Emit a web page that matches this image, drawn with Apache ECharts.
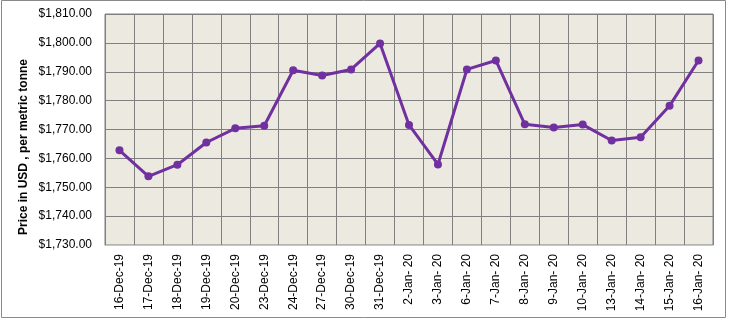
<!DOCTYPE html>
<html>
<head>
<meta charset="utf-8">
<script src="https://cdn.jsdelivr.net/npm/echarts@6/dist/echarts.min.js"></script>
<style>
  html, body { margin: 0; padding: 0; background: #fff; }
  #chart { width: 729px; height: 319px; }
</style>
</head>
<body>
<div id="chart"></div>
<script>
'use strict';

// 日期(横轴)
var dates = [
    '16-Dec-19', '17-Dec-19', '18-Dec-19', '19-Dec-19', '20-Dec-19', '23-Dec-19',
    '24-Dec-19', '27-Dec-19', '30-Dec-19', '31-Dec-19', '2-Jan- 20', '3-Jan- 20',
    '6-Jan- 20', '7-Jan- 20', '8-Jan- 20', '9-Jan- 20', '10-Jan- 20', '13-Jan- 20',
    '14-Jan- 20', '15-Jan- 20', '16-Jan- 20'
];

// 价格 USD / 公吨
var prices = [
    1762.8, 1753.8, 1757.8, 1765.5, 1770.4, 1771.3,
    1790.5, 1788.7, 1790.8, 1799.8, 1771.6, 1757.9,
    1790.8, 1793.9, 1771.8, 1770.7, 1771.7, 1766.2,
    1767.3, 1778.2, 1793.9
];

var yAxisTitle = 'Price in USD , per metric tonne';

function fmtUsd(v) {
    var parts = v.toFixed(2).split('.');
    parts[0] = parts[0].replace(/\B(?=(\d{3})+(?!\d))/g, ',');
    return '$' + parts.join('.');
}

var chart = echarts.init(document.getElementById('chart'));

var option = {
    animation: false,
    backgroundColor: '#ffffff',
    textStyle: { fontFamily: 'Liberation Sans, Arial, sans-serif' },
    grid: {
        left: 105,
        right: 16,
        top: 14,
        bottom: 74,
        show: true,
        backgroundColor: '#ECEAE0',
        borderColor: '#808080',
        borderWidth: 1
    },
    xAxis: {
        type: 'category',
        data: dates,
        boundaryGap: true,
        axisLine: { show: true, lineStyle: { color: '#b8c7dc', width: 1 } },
        axisTick: { show: false },
        axisLabel: {
            rotate: 90,
            margin: 9,
            interval: 0,
            color: '#000',
            fontSize: 12,
            fontFamily: 'Liberation Sans, Arial, sans-serif'
        },
        splitLine: {
            show: true,
            interval: 0,
            lineStyle: { color: '#808080', width: 1 }
        }
    },
    yAxis: {
        type: 'value',
        min: 1730,
        max: 1810,
        interval: 10,
        axisLine: { show: false },
        axisTick: { show: false },
        axisLabel: {
            margin: 13,
            color: '#000',
            fontSize: 12,
            formatter: fmtUsd
        },
        splitLine: { lineStyle: { color: '#808080', width: 1 } }
    },
    graphic: [
        {
            type: 'rect',
            silent: true,
            shape: { x: 1.5, y: 0.5, width: 724, height: 317 },
            style: { fill: 'none', stroke: '#8a8a8a', lineWidth: 1 }
        },
        {
            type: 'text',
            silent: true,
            x: 24,
            y: 147,
            rotation: Math.PI / 2,
            style: {
                text: yAxisTitle,
                fill: '#000',
                font: 'bold 12px "Liberation Sans", Arial, sans-serif',
                align: 'center',
                verticalAlign: 'middle'
            }
        }
    ],
    series: [
        {
            name: 'Price',
            type: 'line',
            data: prices,
            symbol: 'circle',
            symbolSize: 8,
            lineStyle: { color: '#7030A0', width: 3 },
            itemStyle: { color: '#7030A0' }
        }
    ]
};

chart.setOption(option);
</script>
</body>
</html>
